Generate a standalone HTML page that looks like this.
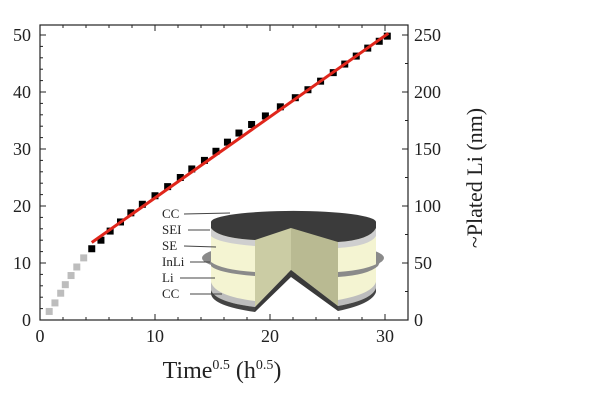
<!DOCTYPE html>
<html><head><meta charset="utf-8"><style>
html,body{margin:0;padding:0;background:#fff;width:600px;height:400px;overflow:hidden}
text{font-family:"Liberation Serif","DejaVu Serif",serif;fill:#222}
</style></head><body>
<svg id="chart" width="600" height="400" viewBox="0 0 600 400" xmlns="http://www.w3.org/2000/svg">
<g id="marks"></g>
<g id="inset">
  <ellipse cx="293" cy="258" rx="91" ry="16" fill="#8a8a8a"/>
  <path d="M211,226 L211,290 Q215,302 255,307 L255,238 Z" fill="#f4f4d2"/>
  <path d="M338,240 L338,306 Q372,300 376,288 L376,226 Z" fill="#f4f4d2"/>
  <path d="M211,282 Q215,296 255,301 L255,307 Q215,302 211,290 Z" fill="#bdbdbd"/>
  <path d="M338,300 Q372,294 376,282 L376,288 Q372,300 338,306 Z" fill="#bdbdbd"/>
  <path d="M211,290 Q215,302 255,307 L255,312 Q213,306 211,294 Z" fill="#444"/>
  <path d="M338,306 Q372,300 376,288 L376,292 Q372,304 338,311 Z" fill="#444"/>
  <path d="M211,228 Q218,238 255,240 L255,246 Q218,243 211,236 Z" fill="#cfcfcf"/>
  <path d="M338,242 Q370,240 376,228 L376,236 Q370,246 338,248 Z" fill="#cfcfcf"/>
  <path d="M211,262 Q222,270 255,272 L255,276 Q218,273 211,266 Z" fill="#8a8a8a"/>
  <path d="M338,272 Q368,270 380,262 L378,266 Q368,275 338,277 Z" fill="#8a8a8a"/>
  <polygon points="255,238 291,226 291,270 255,307" fill="#cbcca4"/>
  <polygon points="291,226 338,240 338,306 291,270" fill="#b9ba92"/>
  <polygon points="255,307 291,270 338,306 338,311 291,277 255,312" fill="#3a3a3a"/>
  <path d="M211,222 A82,11 0 0 1 376,222 L376,228 Q370,240 338,242 L291,228 L255,240 Q218,238 211,228 Z" fill="#3b3b3b"/>
  <g font-size="13">
    <text x="162" y="218">CC</text><text x="162" y="234">SEI</text><text x="162" y="250">SE</text>
    <text x="162" y="266">InLi</text><text x="162" y="282">Li</text><text x="162" y="298">CC</text>
  </g>
  <g stroke="#444" stroke-width="1" fill="none">
    <line x1="184" y1="214" x2="230" y2="213"/><line x1="188" y1="230" x2="210" y2="230"/>
    <line x1="184" y1="246" x2="216" y2="247"/><line x1="190" y1="262" x2="210" y2="262"/>
    <line x1="180" y1="278" x2="215" y2="278"/><line x1="190" y1="294" x2="222" y2="294"/>
  </g>
</g>
<g id="axes"></g>
<text x="222" y="378" font-size="24" text-anchor="middle">Time<tspan font-size="14" dy="-9">0.5</tspan><tspan dy="9"> (h</tspan><tspan font-size="14" dy="-9">0.5</tspan><tspan dy="9">)</tspan></text>
<text transform="translate(482,178) rotate(-90)" font-size="22" text-anchor="middle">~Plated Li (nm)</text>
<text transform="translate(-5,178) rotate(-90)" font-size="22" text-anchor="middle">Plated Li capacity (μAh cm⁻²)</text>
</svg>
<script>
const grayX=[0.8,1.3,1.8,2.2,2.7,3.2,3.8];
const grayY=[1.5,3.0,4.7,6.2,7.8,9.3,10.9];
const blackX=[4.5,5.3,6.1,7.0,7.9,8.9,10.0,11.1,12.2,13.2,14.3,15.3,16.3,17.3,18.4,19.6,20.9,22.2,23.3,24.4,25.5,26.5,27.5,28.5,29.5,30.2];
const blackY=[12.5,14.0,15.6,17.2,18.8,20.3,21.8,23.4,25.0,26.5,28.0,29.6,31.2,32.8,34.3,35.8,37.4,39.0,40.4,41.9,43.4,44.9,46.3,47.7,48.9,49.8];
const fitX=[4.5,30.3];
const fitY=[13.6,50.3];
const xTicks=[0,10,20,30];
const yTicks=[0,10,20,30,40,50];
const y2Ticks=[0,50,100,150,200,250];
const X0=40,X1=408,Y0=320,Y1=25;
const sx=v=>40+v*11.5;
const sy=v=>320-v*5.7;
const sy2=v=>320-v*5.7/5;
const NS='http://www.w3.org/2000/svg';
function mk(t,a,p){const e=document.createElementNS(NS,t);for(const k in a)e.setAttribute(k,a[k]);p.appendChild(e);return e;}
const m=document.getElementById('marks'),ax=document.getElementById('axes');
grayX.forEach((x,i)=>{const r=mk('rect',{x:sx(x)-3.5,y:sy(grayY[i])-3.5,width:7,height:7,fill:'#bdbdbd'},m);

});
blackX.forEach((x,i)=>{const r=mk('rect',{x:sx(x)-3.5,y:sy(blackY[i])-3.5,width:7,height:7,fill:'#000'},m);

});
const fl=mk('line',{x1:sx(fitX[0]),y1:sy(fitY[0]),x2:sx(fitX[1]),y2:sy(fitY[1]),stroke:'#e0261b','stroke-width':3},m);


const fr=mk('rect',{x:X0,y:Y1,width:X1-X0,height:Y0-Y1,fill:'none',stroke:'#222','stroke-width':1.2},ax);


for(let v=0;v<=32;v+=2){const big=v%10===0;const x=sx(v);
mk('line',{x1:x,y1:Y0,x2:x,y2:Y0-(big?6:3),stroke:'#222'},ax);
mk('line',{x1:x,y1:Y1,x2:x,y2:Y1+(big?6:3),stroke:'#222'},ax);}
for(let v=0;v<=50;v+=2){const big=v%10===0;const y=sy(v);
mk('line',{x1:X0,y1:y,x2:X0+(big?6:3),y2:y,stroke:'#222'},ax);}
for(let v=0;v<=250;v+=25){const big=v%50===0;const y=sy2(v);
mk('line',{x1:X1,y1:y,x2:X1-(big?6:3),y2:y,stroke:'#222'},ax);}
xTicks.forEach(v=>{const t=mk('text',{x:sx(v),y:342,'font-size':18,'text-anchor':'middle'},ax);t.textContent=v;

});
yTicks.forEach(v=>{const t=mk('text',{x:31,y:sy(v)+6,'font-size':18,'text-anchor':'end'},ax);t.textContent=v;

});
y2Ticks.forEach(v=>{const t=mk('text',{x:414,y:sy2(v)+6,'font-size':18},ax);t.textContent=v;

});
</script>
</body></html>
